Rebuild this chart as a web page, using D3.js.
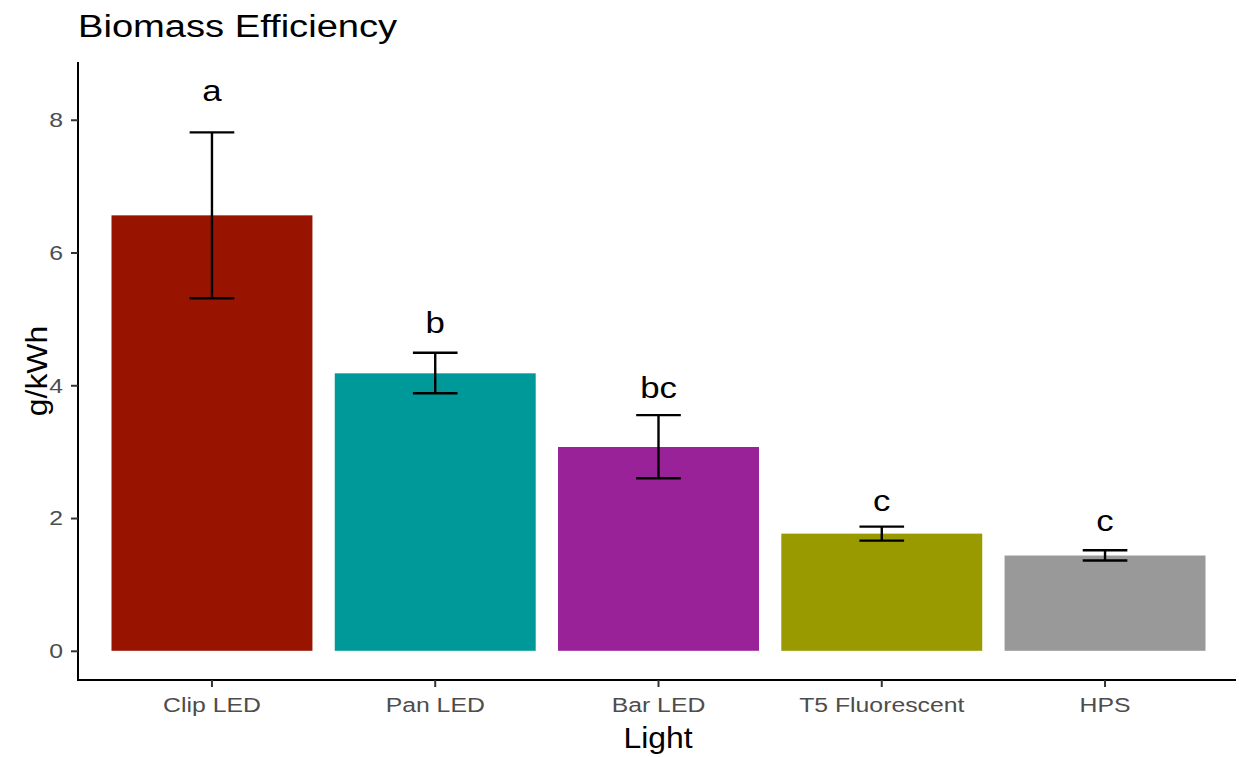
<!DOCTYPE html>
<html><head><meta charset="utf-8">
<script src="https://cdn.jsdelivr.net/npm/d3@7"></script>
<style>body{margin:0;background:#fff}svg{display:block}text{font-family:"Liberation Sans",Arial,Helvetica,sans-serif}</style>
</head><body>
<script>
const categories = ["Clip LED","Pan LED","Bar LED","T5 Fluorescent","HPS"];
const means = [6.56, 4.18, 3.07, 1.765, 1.435];
const errLow = [5.31, 3.88, 2.60, 1.66, 1.36];
const errHigh = [7.81, 4.49, 3.55, 1.87, 1.515];
const letters = ["a","b","bc","c","c"];
const letterY = [8.275, 4.78, 3.81, 2.10, 1.80];
const colors = ["#991400","#009999","#992299","#999900","#999999"];
const yTicks = [0,2,4,6,8];

const W=1239,H=757;
const S=1.18; // horizontal glyph stretch to match reference font rendering
const svg=d3.select("body").append("svg").attr("width",W).attr("height",H);
const x=d3.scaleBand().domain(categories).range([78,1239]).paddingInner(0.1).paddingOuter(0.15);
const y=d3.scaleLinear().domain([-0.44,8.87]).range([680,62]);

// bars
svg.append("g").selectAll("rect").data(categories).join("rect")
 .attr("x",d=>x(d)).attr("width",x.bandwidth())
 .attr("y",(d,i)=>y(means[i])).attr("height",(d,i)=>y(0)-y(means[i]))
 .attr("fill",(d,i)=>colors[i]);

// error bars
const capW = x.step()*0.2;
const eg=svg.append("g").attr("stroke","#000").attr("stroke-width",2.4).attr("fill","none");
categories.forEach((c,i)=>{
  const cx=x(c)+x.bandwidth()/2;
  eg.append("line").attr("x1",cx).attr("x2",cx).attr("y1",y(errLow[i])).attr("y2",y(errHigh[i]));
  eg.append("line").attr("x1",cx-capW/2).attr("x2",cx+capW/2).attr("y1",y(errLow[i])).attr("y2",y(errLow[i]));
  eg.append("line").attr("x1",cx-capW/2).attr("x2",cx+capW/2).attr("y1",y(errHigh[i])).attr("y2",y(errHigh[i]));
});

// letters
svg.append("g").selectAll("text").data(categories).join("text")
 .attr("transform",(d,i)=>`translate(${x(d)+x.bandwidth()/2},${y(letterY[i])}) scale(1.16,1)`)
 .attr("text-anchor","middle")
 .attr("font-size",30).attr("fill","#000").text((d,i)=>letters[i]);

function stretchTicks(sel){
  sel.selectAll(".tick text").each(function(){
    const t=d3.select(this);
    const tx=+t.attr("x")||0, ty=+t.attr("y")||0;
    t.attr("x",0).attr("y",0).attr("transform",`translate(${tx},${ty}) scale(${S},1)`);
  });
}

// y axis
const ya=svg.append("g").attr("transform","translate(78,0)")
 .call(d3.axisLeft(y).tickValues(yTicks).tickSize(7).tickPadding(8));
ya.select(".domain").attr("stroke","#000").attr("stroke-width",2).attr("d","M0,62V681");
ya.selectAll(".tick line").attr("stroke","#333").attr("stroke-width",2);
ya.selectAll(".tick text").attr("font-size",21).attr("fill","#4d4d4d").attr("font-family","Liberation Sans, Arial, sans-serif");
stretchTicks(ya);

// x axis
const xa=svg.append("g").attr("transform","translate(0,680)")
 .call(d3.axisBottom(x).tickSize(7).tickPadding(10));
xa.select(".domain").attr("stroke","#000").attr("stroke-width",2).attr("d","M77,0H1236");
xa.selectAll(".tick line").attr("stroke","#333").attr("stroke-width",2);
xa.selectAll(".tick text").attr("font-size",21).attr("fill","#4d4d4d").attr("font-family","Liberation Sans, Arial, sans-serif");
stretchTicks(xa);

// titles
svg.append("text").attr("transform","translate(78,37) scale(1.23,1)").attr("font-size",31).attr("fill","#000").text("Biomass Efficiency");
svg.append("text").attr("transform","translate(658,748) scale(1.1,1)").attr("text-anchor","middle").attr("font-size",29).attr("fill","#000").text("Light");
svg.append("text").attr("transform","translate(47,371) rotate(-90) scale(1.1,1)").attr("text-anchor","middle").attr("font-size",29).attr("fill","#000").text("g/kWh");
</script>
</body></html>
